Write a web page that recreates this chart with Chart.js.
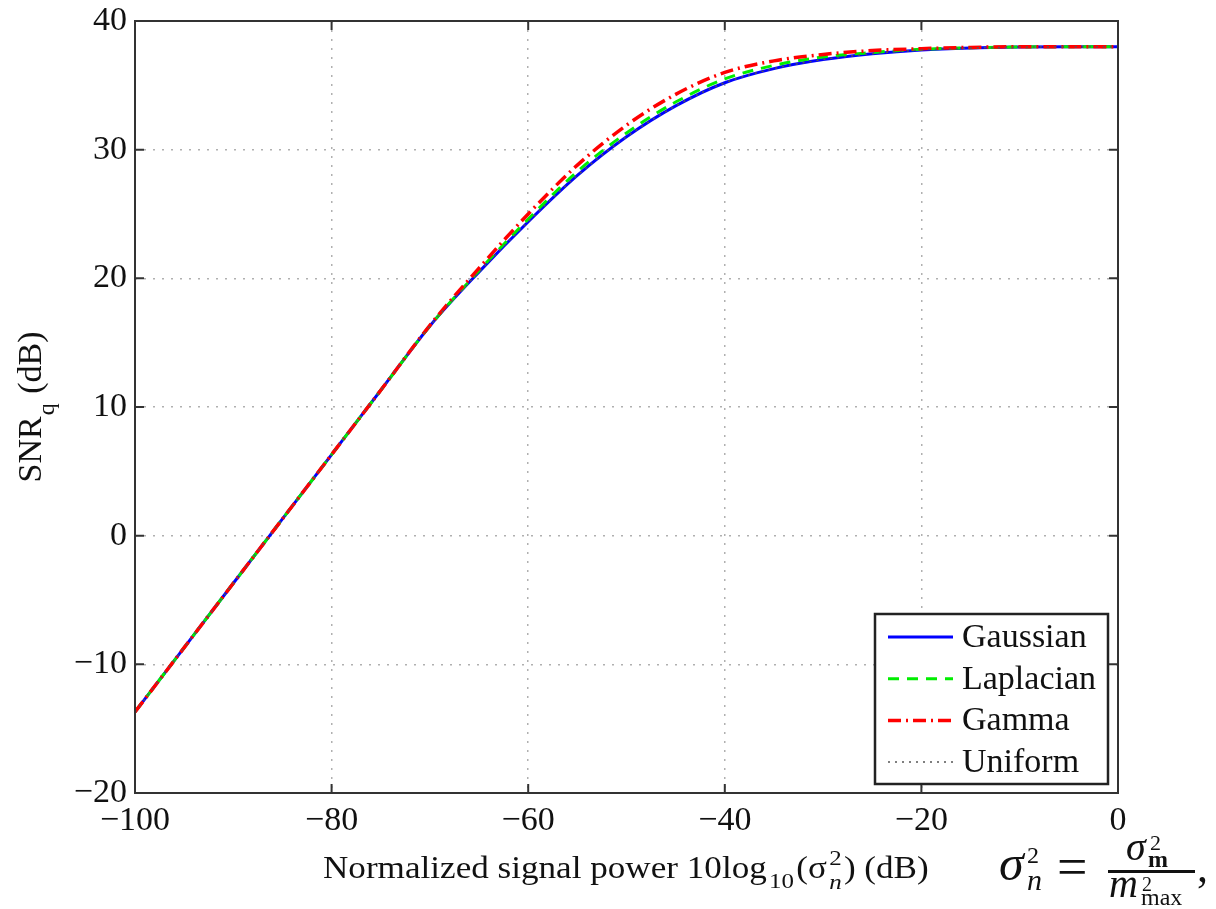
<!DOCTYPE html>
<html>
<head>
<meta charset="utf-8">
<script src="https://cdn.jsdelivr.net/npm/chart.js@4/dist/chart.umd.min.js"></script>
<style>
  body { margin: 0; background: #fff; }
  #wrap { width: 1216px; height: 909px; }
</style>
</head>
<body>
<div id="wrap"><canvas id="snr-chart" width="1216" height="909"></canvas></div>
<script>
// normalized signal power, dB
var powerDb = [-100, -95, -90, -85, -80, -75, -70, -65, -60, -55, -50, -45, -40, -35, -30, -25, -20, -15, -10, -5, 0];
var gaussian  = [-13.7, -8.7, -3.7, 1.3, 6.3, 11.3, 16.3, 20.5, 24.4, 28.0, 31.0, 33.4, 35.2, 36.3, 37.0, 37.45, 37.75, 37.9, 37.97, 38.0, 38.0];
var laplacian = [-13.7, -8.7, -3.7, 1.3, 6.3, 11.3, 16.3, 20.6, 24.6, 28.3, 31.3, 33.7, 35.5, 36.55, 37.2, 37.55, 37.8, 37.92, 37.98, 38.0, 38.0];
var gamma     = [-13.7, -8.7, -3.7, 1.3, 6.3, 11.3, 16.35, 20.8, 25.0, 28.8, 31.9, 34.3, 36.0, 36.9, 37.4, 37.7, 37.85, 37.95, 38.0, 38.0, 38.0];
var uniform   = [-13.7, -8.7, -3.7, 1.3, 6.3, 11.3, 16.3, 20.5, 24.4, 28.0, 31.0, 33.4, 35.2, 36.3, 37.0, 37.45, 37.75, 37.9, 37.97, 38.0, 38.0];
var xTicks = [-100, -80, -60, -40, -20, 0];
var yTicks = [-20, -10, 0, 10, 20, 30, 40];

var serif = "'Liberation Serif', 'Times New Roman', serif";

function pairs(ys) {
    return powerDb.map(function(x, i){ return {x: x, y: ys[i]}; });
}
function minusSign(v) {
    return v < 0 ? '\u2212' + Math.abs(v) : String(v);
}
function txt(ctx, s, font, x, y) {
    ctx.font = font;
    ctx.fillText(s, x, y);
}

var frame = {
    id: 'frame',
    afterDatasetsDraw: function(chart) {
        var ctx = chart.ctx, a = chart.chartArea;
        var sx = chart.scales.x, sy = chart.scales.y;
        ctx.save();
        // axes box
        ctx.strokeStyle = '#333';
        ctx.lineWidth = 2;
        ctx.strokeRect(a.left, a.top, a.right - a.left, a.bottom - a.top);
        // inward ticks on all sides
        ctx.beginPath();
        xTicks.forEach(function(t){
            var px = sx.getPixelForValue(t);
            ctx.moveTo(px, a.bottom); ctx.lineTo(px, a.bottom - 9);
            ctx.moveTo(px, a.top); ctx.lineTo(px, a.top + 9);
        });
        yTicks.forEach(function(t){
            var py = sy.getPixelForValue(t);
            ctx.moveTo(a.left, py); ctx.lineTo(a.left + 9, py);
            ctx.moveTo(a.right, py); ctx.lineTo(a.right - 9, py);
        });
        ctx.stroke();

        // legend
        var lx = 875, ly = 614, lw = 233, lh = 170;
        ctx.fillStyle = '#fff';
        ctx.fillRect(lx, ly, lw, lh);
        ctx.strokeStyle = '#222';
        ctx.lineWidth = 2.5;
        ctx.strokeRect(lx, ly, lw, lh);
        ctx.font = '34px ' + serif;
        ctx.textBaseline = 'middle';
        chart.data.datasets.forEach(function(ds, i){
            var cy = 637 + i * 41.7;
            ctx.beginPath();
            ctx.strokeStyle = ds.borderColor;
            ctx.lineWidth = ds.borderWidth;
            ctx.setLineDash(ds.borderDash || []);
            ctx.moveTo(888, cy); ctx.lineTo(953, cy);
            ctx.stroke();
            ctx.setLineDash([]);
            ctx.fillStyle = '#111';
            ctx.fillText(ds.label, 962, cy + 1);
        });
        ctx.restore();
    },
    afterDraw: function(chart) {
        var ctx = chart.ctx;
        ctx.save();
        ctx.fillStyle = '#111';
        ctx.textBaseline = 'alphabetic';

        // x axis title, with sub and superscripts
        var big = '31px ' + serif, small = '22px ' + serif, smallIt = 'italic 22px ' + serif;
        var runs = [
            {t: 'Normalized signal power 10log', f: big, dy: 0},
            {t: '10', f: small, dy: 10},
            {t: '(\u03c3', f: big, dy: 0},
            {t: '2', f: small, dy: -13, stack: {t: 'n', f: smallIt, dy: 11}},
            {t: ') (dB)', f: big, dy: 0}
        ];
        var total = 0;
        runs.forEach(function(r){ ctx.font = r.f; r.w = ctx.measureText(r.t).width + 2; total += r.w; });
        var scaleX = 608 / total;
        ctx.save();
        ctx.translate(323, 878);
        ctx.scale(scaleX, 1);
        var cx = 0;
        runs.forEach(function(r){
            txt(ctx, r.t, r.f, cx, r.dy);
            if (r.stack) txt(ctx, r.stack.t, r.stack.f, cx, r.stack.dy);
            cx += r.w;
        });
        ctx.restore();

        // y axis title
        ctx.save();
        ctx.translate(41, 407);
        ctx.rotate(-Math.PI / 2);
        ctx.font = '34px ' + serif;
        var w1 = ctx.measureText('SNR').width;
        var w3 = ctx.measureText(' (dB)').width;
        ctx.font = '24px ' + serif;
        var w2 = ctx.measureText('q').width;
        var start = -(w1 + w2 + 2 + w3) / 2;
        txt(ctx, 'SNR', '34px ' + serif, start, 0);
        txt(ctx, 'q', '24px ' + serif, start + w1 + 1, 13);
        txt(ctx, ' (dB)', '34px ' + serif, start + w1 + w2 + 2, 0);
        ctx.restore();

        // formula at the bottom right
        txt(ctx, '\u03c3', 'italic 50px ' + serif, 999, 880);
        txt(ctx, '2', '24px ' + serif, 1027, 863);
        txt(ctx, 'n', 'italic 30px ' + serif, 1027, 890);
        txt(ctx, '=', '54px ' + serif, 1057, 885);
        txt(ctx, '\u03c3', 'italic 40px ' + serif, 1126, 860);
        txt(ctx, '2', '22px ' + serif, 1150, 850);
        txt(ctx, 'm', 'bold 24px ' + serif, 1148, 867);
        ctx.fillRect(1108, 870, 87, 3);
        txt(ctx, 'm', 'italic 40px ' + serif, 1109, 897);
        txt(ctx, '2', '20px ' + serif, 1142, 891);
        txt(ctx, 'max', '24px ' + serif, 1141, 905);
        txt(ctx, ',', '44px ' + serif, 1197, 882);
        ctx.restore();
    }
};

var ctx = document.getElementById('snr-chart').getContext('2d');
var snrChart = new Chart(ctx, {
    type: 'line',
    data: {
        datasets: [
            { label: 'Gaussian', data: pairs(gaussian), borderColor: '#0000ff', borderWidth: 3, borderDash: [], order: 4 },
            { label: 'Laplacian', data: pairs(laplacian), borderColor: '#00ee00', borderWidth: 3, borderDash: [11, 8], order: 3 },
            { label: 'Gamma', data: pairs(gamma), borderColor: '#ff0000', borderWidth: 3.5, borderDash: [13, 5, 2, 5], order: 2 },
            { label: 'Uniform', data: pairs(uniform), borderColor: '#555555', borderWidth: 1.5, borderDash: [2, 5], order: 1 }
        ]
    },
    options: {
        responsive: false,
        animation: false,
        layout: { padding: { top: 21, right: 98, left: 0, bottom: 0 } },
        elements: {
            point: { radius: 0 },
            line: { cubicInterpolationMode: 'monotone', fill: false }
        },
        plugins: {
            legend: { display: false },
            tooltip: { enabled: false }
        },
        scales: {
            x: {
                type: 'linear',
                min: -100,
                max: 0,
                afterFit: function(scale){
                    scale.height = 116;
                    scale.paddingLeft = 0; scale.paddingRight = 0;
                },
                afterBuildTicks: function(scale){ scale.ticks = xTicks.map(function(v){ return {value: v}; }); },
                ticks: {
                    padding: 8,
                    color: '#111',
                    font: { family: serif, size: 34 },
                    maxRotation: 0,
                    callback: minusSign
                },
                grid: { color: '#b0b0b0', lineWidth: 1.5, drawTicks: false },
                border: { display: false, dash: [2, 7] }
            },
            y: {
                min: -20,
                max: 40,
                afterFit: function(scale){
                    scale.width = 135;
                    scale.paddingTop = 0; scale.paddingBottom = 0;
                },
                afterBuildTicks: function(scale){ scale.ticks = yTicks.map(function(v){ return {value: v}; }); },
                ticks: {
                    padding: 8,
                    color: '#111',
                    font: { family: serif, size: 34 },
                    callback: minusSign
                },
                grid: { color: '#b0b0b0', lineWidth: 1.5, drawTicks: false },
                border: { display: false, dash: [2, 7] }
            }
        }
    },
    plugins: [frame]
});
</script>
</body>
</html>
